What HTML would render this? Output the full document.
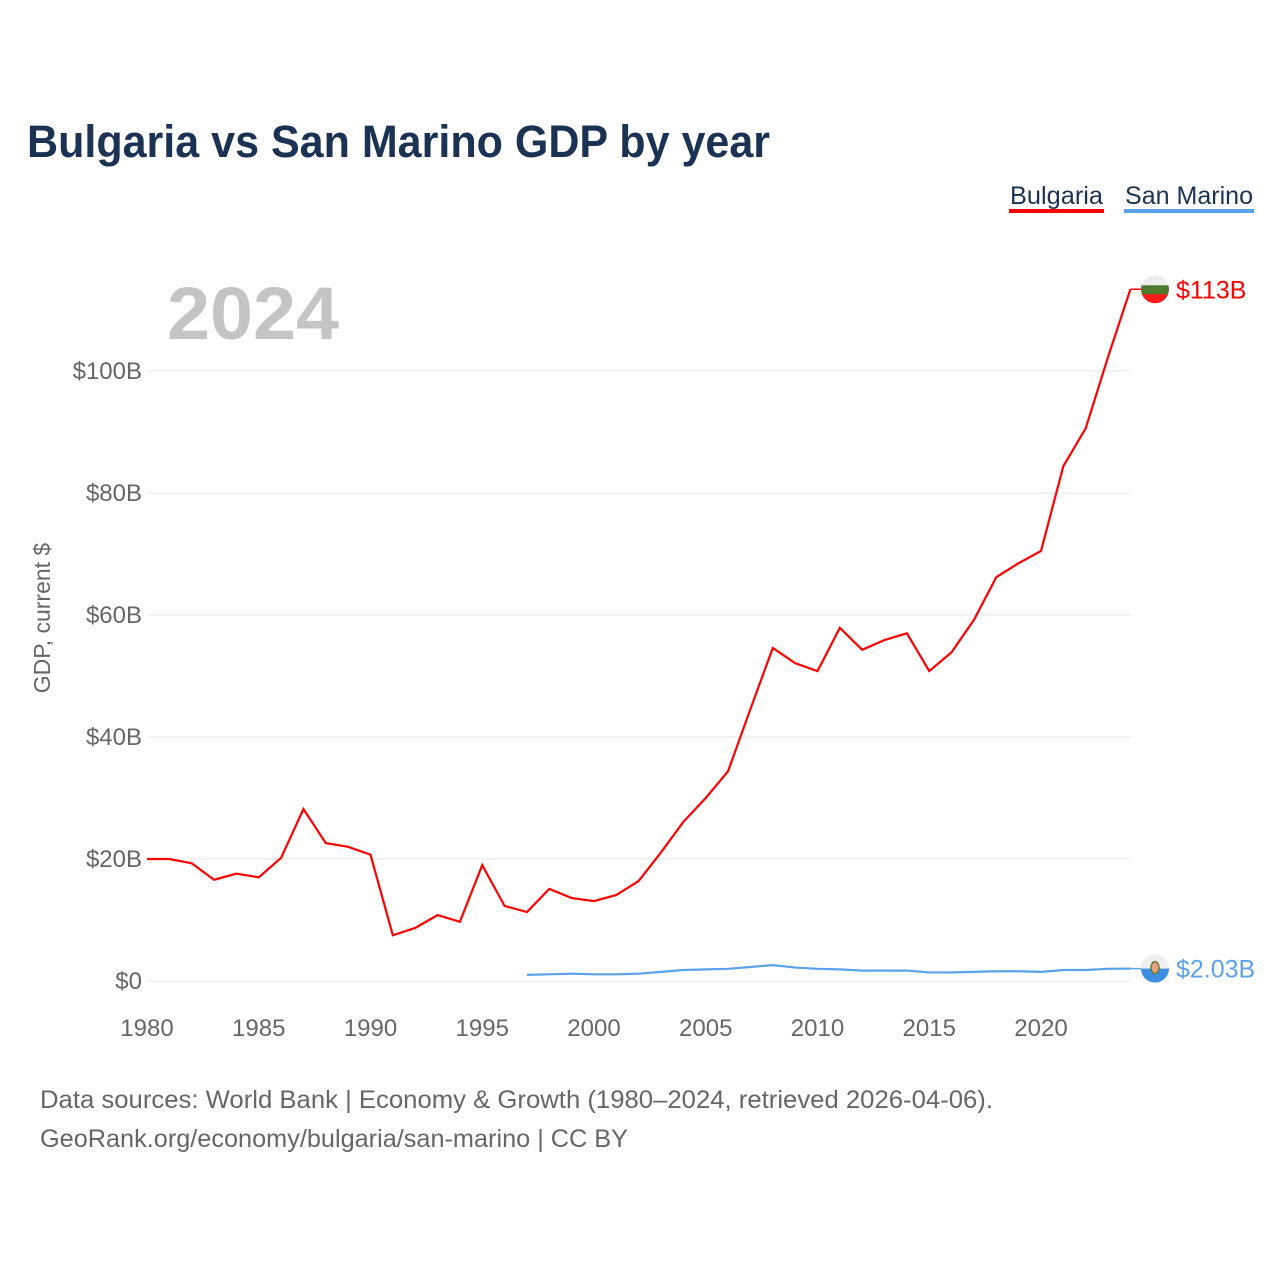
<!DOCTYPE html>
<html><head><meta charset="utf-8"><style>
body{margin:0;background:#fff;}
svg text{font-family:"Liberation Sans",sans-serif;}
</style></head><body>
<svg width="1280" height="1280" viewBox="0 0 1280 1280" xmlns="http://www.w3.org/2000/svg" id="chart">
<rect width="1280" height="1280" fill="#fff"/>
<text x="27" y="157" font-size="45" font-weight="bold" fill="#1b3252" textLength="743" lengthAdjust="spacingAndGlyphs">Bulgaria vs San Marino GDP by year</text>
<g><text x="1010" y="204" font-size="25" fill="#1b3252" textLength="93" lengthAdjust="spacingAndGlyphs">Bulgaria</text><rect x="1009" y="209" width="95" height="4" fill="#ff0000"/></g>
<g><text x="1125" y="204" font-size="25" fill="#1b3252" textLength="128" lengthAdjust="spacingAndGlyphs">San Marino</text><rect x="1124" y="209" width="130" height="4" fill="#5ba3e8"/></g>
<text x="167" y="339" font-size="74" font-weight="bold" fill="#c4c4c4" textLength="172" lengthAdjust="spacingAndGlyphs">2024</text>
<text transform="translate(50,618) rotate(-90)" text-anchor="middle" font-size="23" fill="#666">GDP, current $</text>
<g id="grid"></g><g id="yticks"></g><g id="xticks"></g><g id="series"></g><g id="labels"></g>
<text x="40" y="1108" font-size="25" fill="#666" textLength="953" lengthAdjust="spacingAndGlyphs">Data sources: World Bank | Economy &amp; Growth (1980–2024, retrieved 2026-04-06).</text>
<text x="40" y="1147" font-size="25" fill="#666" textLength="588" lengthAdjust="spacingAndGlyphs">GeoRank.org/economy/bulgaria/san-marino | CC BY</text>
</svg>
<script>
const years=[];for(let y=1980;y<=2024;y++)years.push(y);
const bulgaria=[20.0,20.0,19.3,16.6,17.6,17.0,20.2,28.2,22.6,22.0,20.7,7.5,8.7,10.8,9.7,19.0,12.3,11.3,15.1,13.6,13.1,14.1,16.4,21.1,26.1,30.0,34.4,44.6,54.6,52.1,50.8,57.9,54.3,55.9,57.0,50.8,53.9,59.2,66.2,68.5,70.5,84.4,90.6,102.3,113.4];
const smYears=[];for(let y=1997;y<=2024;y++)smYears.push(y);
const sanMarino=[1.0,1.1,1.2,1.1,1.1,1.2,1.5,1.8,1.9,2.0,2.3,2.6,2.2,2.0,1.9,1.7,1.7,1.7,1.4,1.4,1.5,1.6,1.6,1.5,1.8,1.8,2.0,2.03];
const yTicks=[0,20,40,60,80,100];
const yTickLabels=["$0","$20B","$40B","$60B","$80B","$100B"];
const xTicks=[1980,1985,1990,1995,2000,2005,2010,2015,2020];
const NS="http://www.w3.org/2000/svg";
const X=y=>147+(y-1980)*(1130.4-147)/44;
const Y=v=>981-v*6.1;
function mk(t,a,p){const e=document.createElementNS(NS,t);for(const k in a)e.setAttribute(k,a[k]);document.getElementById(p).appendChild(e);return e;}
yTicks.forEach((v,i)=>{
 const l=mk('line',{x1:147,x2:1130,y1:Y(v),y2:Y(v),stroke:'#e6e6e6','stroke-width':1},'grid');
 
 
 const t=mk('text',{x:142,y:Y(v)+8,'text-anchor':'end','font-size':24,fill:'#666'},'yticks');
 t.textContent=yTickLabels[i];
 
 
});
xTicks.forEach(v=>{
 const t=mk('text',{x:X(v),y:1036,'text-anchor':'middle','font-size':24,fill:'#666'},'xticks');
 t.textContent=v;
 
 
});
const p1=mk('polyline',{points:bulgaria.map((v,i)=>X(years[i])+','+Y(v)).join(' '),fill:'none',stroke:'#ff0000','stroke-width':2.2},'series');


const p2=mk('polyline',{points:sanMarino.map((v,i)=>X(smYears[i])+','+Y(v)).join(' '),fill:'none',stroke:'#5ba3e8','stroke-width':2.2},'series');


const bl=bulgaria[bulgaria.length-1], sl=sanMarino[sanMarino.length-1];
const by=Y(bl), sy=Y(sl);
const c1=mk('line',{x1:X(2024),x2:1141,y1:by,y2:by,stroke:'#ff0000','stroke-width':1.5},'labels');


const c2=mk('line',{x1:X(2024),x2:1141,y1:sy,y2:sy,stroke:'#5ba3e8','stroke-width':1.5},'labels');


function flag(cx,cy,cols,name){
 const g=mk('g',{},'labels');
 
 
 const id=name+'-clip';
 const cp=document.createElementNS(NS,'clipPath');cp.setAttribute('id',id);
 const cc=document.createElementNS(NS,'circle');cc.setAttribute('cx',cx);cc.setAttribute('cy',cy);cc.setAttribute('r',14);cp.appendChild(cc);g.appendChild(cp);
 let yy=cy-14;
 cols.forEach(c=>{const r=document.createElementNS(NS,'rect');r.setAttribute('x',cx-14);r.setAttribute('y',yy);r.setAttribute('width',28);r.setAttribute('height',c[1]+0.5);r.setAttribute('fill',c[0]);r.setAttribute('clip-path','url(#'+id+')');g.appendChild(r);yy+=c[1];});
 return g;
}
flag(1155,by,[['#eeeeee',10],['#4e7a2e',9],['#ff1a1a',9]],'bulgaria-flag');
const sf=flag(1155,sy,[['#eeeeee',14],['#3d8ee0',14]],'san-marino-flag');
const em=document.createElementNS(NS,'ellipse');em.setAttribute('cx',1155);em.setAttribute('cy',sy-1);em.setAttribute('rx',4);em.setAttribute('ry',6);em.setAttribute('fill','#e8a080');em.setAttribute('stroke','#6a7a30');em.setAttribute('stroke-width',1.5);sf.appendChild(em);
const t1=mk('text',{x:1176,y:by+9,'font-size':25,fill:'#ff0000'},'labels');
t1.textContent='$'+Math.round(bl)+'B';


const t2=mk('text',{x:1176,y:sy+9,'font-size':25,fill:'#5ba3e8'},'labels');
t2.textContent='$'+sl.toFixed(2)+'B';


</script>
</body></html>
